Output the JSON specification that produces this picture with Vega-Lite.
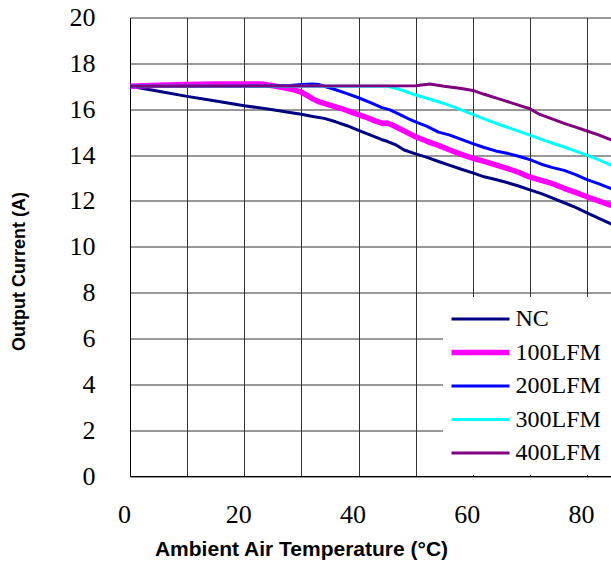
{
  "$schema": "https://vega.github.io/schema/vega-lite/v6.json",
  "width": 481,
  "height": 458.5,
  "autosize": {"type": "none"},
  "padding": {"left": 130, "top": 17.5, "right": 0, "bottom": 85},
  "background": "white",
  "config": {"view": {"stroke": null}},
  "data": {"values": [
    {"series": "NC", "temp": 0, "current": 17.0},
    {"series": "NC", "temp": 5, "current": 16.78},
    {"series": "NC", "temp": 10, "current": 16.56},
    {"series": "NC", "temp": 15, "current": 16.36},
    {"series": "NC", "temp": 20, "current": 16.15},
    {"series": "NC", "temp": 25, "current": 15.98},
    {"series": "NC", "temp": 28, "current": 15.86},
    {"series": "NC", "temp": 30, "current": 15.78},
    {"series": "NC", "temp": 32, "current": 15.68},
    {"series": "NC", "temp": 34, "current": 15.6},
    {"series": "NC", "temp": 36, "current": 15.45},
    {"series": "NC", "temp": 38, "current": 15.28},
    {"series": "NC", "temp": 40, "current": 15.08},
    {"series": "NC", "temp": 42, "current": 14.88},
    {"series": "NC", "temp": 44, "current": 14.68},
    {"series": "NC", "temp": 45, "current": 14.6},
    {"series": "NC", "temp": 46.5, "current": 14.45},
    {"series": "NC", "temp": 48, "current": 14.22},
    {"series": "NC", "temp": 50, "current": 14.05},
    {"series": "NC", "temp": 52, "current": 13.9},
    {"series": "NC", "temp": 54, "current": 13.72},
    {"series": "NC", "temp": 56, "current": 13.55},
    {"series": "NC", "temp": 58, "current": 13.38},
    {"series": "NC", "temp": 60, "current": 13.22},
    {"series": "NC", "temp": 62, "current": 13.05},
    {"series": "NC", "temp": 64, "current": 12.93},
    {"series": "NC", "temp": 66, "current": 12.8},
    {"series": "NC", "temp": 68, "current": 12.65},
    {"series": "NC", "temp": 70, "current": 12.48},
    {"series": "NC", "temp": 72, "current": 12.32},
    {"series": "NC", "temp": 74, "current": 12.12},
    {"series": "NC", "temp": 76, "current": 11.92},
    {"series": "NC", "temp": 78, "current": 11.72},
    {"series": "NC", "temp": 80, "current": 11.48},
    {"series": "NC", "temp": 82, "current": 11.25},
    {"series": "NC", "temp": 84, "current": 11.02},
    {"series": "NC", "temp": 85, "current": 10.92},

    {"series": "100LFM", "temp": 0, "current": 17.0},
    {"series": "100LFM", "temp": 5, "current": 17.05},
    {"series": "100LFM", "temp": 10, "current": 17.08},
    {"series": "100LFM", "temp": 15, "current": 17.1},
    {"series": "100LFM", "temp": 20, "current": 17.1},
    {"series": "100LFM", "temp": 23, "current": 17.1},
    {"series": "100LFM", "temp": 25, "current": 17.02},
    {"series": "100LFM", "temp": 27, "current": 16.93},
    {"series": "100LFM", "temp": 29, "current": 16.82},
    {"series": "100LFM", "temp": 30, "current": 16.74},
    {"series": "100LFM", "temp": 31, "current": 16.6},
    {"series": "100LFM", "temp": 32, "current": 16.45},
    {"series": "100LFM", "temp": 33, "current": 16.33},
    {"series": "100LFM", "temp": 35, "current": 16.18},
    {"series": "100LFM", "temp": 37, "current": 16.03},
    {"series": "100LFM", "temp": 39, "current": 15.85},
    {"series": "100LFM", "temp": 41, "current": 15.68},
    {"series": "100LFM", "temp": 43, "current": 15.48},
    {"series": "100LFM", "temp": 44.3, "current": 15.38},
    {"series": "100LFM", "temp": 45, "current": 15.4},
    {"series": "100LFM", "temp": 46, "current": 15.3},
    {"series": "100LFM", "temp": 48, "current": 15.05},
    {"series": "100LFM", "temp": 50, "current": 14.8},
    {"series": "100LFM", "temp": 52, "current": 14.6},
    {"series": "100LFM", "temp": 54, "current": 14.42},
    {"series": "100LFM", "temp": 56, "current": 14.22},
    {"series": "100LFM", "temp": 58, "current": 14.03},
    {"series": "100LFM", "temp": 60, "current": 13.86},
    {"series": "100LFM", "temp": 62, "current": 13.72},
    {"series": "100LFM", "temp": 64, "current": 13.57},
    {"series": "100LFM", "temp": 66, "current": 13.42},
    {"series": "100LFM", "temp": 68, "current": 13.25},
    {"series": "100LFM", "temp": 69.8, "current": 13.06},
    {"series": "100LFM", "temp": 72, "current": 12.9},
    {"series": "100LFM", "temp": 74, "current": 12.75},
    {"series": "100LFM", "temp": 76, "current": 12.55},
    {"series": "100LFM", "temp": 78, "current": 12.37},
    {"series": "100LFM", "temp": 80, "current": 12.18},
    {"series": "100LFM", "temp": 82, "current": 12.0},
    {"series": "100LFM", "temp": 84, "current": 11.83},
    {"series": "100LFM", "temp": 85, "current": 11.75},

    {"series": "200LFM", "temp": 0, "current": 17.0},
    {"series": "200LFM", "temp": 10, "current": 17.0},
    {"series": "200LFM", "temp": 20, "current": 17.0},
    {"series": "200LFM", "temp": 28, "current": 17.03},
    {"series": "200LFM", "temp": 30, "current": 17.08},
    {"series": "200LFM", "temp": 32, "current": 17.1},
    {"series": "200LFM", "temp": 33, "current": 17.08},
    {"series": "200LFM", "temp": 34, "current": 17.0},
    {"series": "200LFM", "temp": 36, "current": 16.85},
    {"series": "200LFM", "temp": 38, "current": 16.68},
    {"series": "200LFM", "temp": 40, "current": 16.5},
    {"series": "200LFM", "temp": 42, "current": 16.3},
    {"series": "200LFM", "temp": 44, "current": 16.08},
    {"series": "200LFM", "temp": 45.5, "current": 15.97},
    {"series": "200LFM", "temp": 47, "current": 15.8},
    {"series": "200LFM", "temp": 49, "current": 15.55},
    {"series": "200LFM", "temp": 50, "current": 15.45},
    {"series": "200LFM", "temp": 52, "current": 15.25},
    {"series": "200LFM", "temp": 54, "current": 15.0},
    {"series": "200LFM", "temp": 56, "current": 14.87},
    {"series": "200LFM", "temp": 58, "current": 14.68},
    {"series": "200LFM", "temp": 60, "current": 14.5},
    {"series": "200LFM", "temp": 62, "current": 14.33},
    {"series": "200LFM", "temp": 64, "current": 14.18},
    {"series": "200LFM", "temp": 66, "current": 14.08},
    {"series": "200LFM", "temp": 68, "current": 13.95},
    {"series": "200LFM", "temp": 70, "current": 13.8},
    {"series": "200LFM", "temp": 72, "current": 13.6},
    {"series": "200LFM", "temp": 74, "current": 13.45},
    {"series": "200LFM", "temp": 76, "current": 13.33},
    {"series": "200LFM", "temp": 78, "current": 13.15},
    {"series": "200LFM", "temp": 80, "current": 12.93},
    {"series": "200LFM", "temp": 82, "current": 12.75},
    {"series": "200LFM", "temp": 84, "current": 12.56},
    {"series": "200LFM", "temp": 85, "current": 12.45},

    {"series": "300LFM", "temp": 0, "current": 17.0},
    {"series": "300LFM", "temp": 45, "current": 17.0},
    {"series": "300LFM", "temp": 47, "current": 16.88},
    {"series": "300LFM", "temp": 50, "current": 16.62},
    {"series": "300LFM", "temp": 52, "current": 16.48},
    {"series": "300LFM", "temp": 55, "current": 16.25},
    {"series": "300LFM", "temp": 58, "current": 15.97},
    {"series": "300LFM", "temp": 60, "current": 15.77},
    {"series": "300LFM", "temp": 62, "current": 15.58},
    {"series": "300LFM", "temp": 65, "current": 15.3},
    {"series": "300LFM", "temp": 67, "current": 15.13},
    {"series": "300LFM", "temp": 70, "current": 14.87},
    {"series": "300LFM", "temp": 73, "current": 14.6},
    {"series": "300LFM", "temp": 76, "current": 14.35},
    {"series": "300LFM", "temp": 78, "current": 14.17},
    {"series": "300LFM", "temp": 80, "current": 14.0},
    {"series": "300LFM", "temp": 82, "current": 13.8},
    {"series": "300LFM", "temp": 84, "current": 13.58},
    {"series": "300LFM", "temp": 85, "current": 13.48},

    {"series": "400LFM", "temp": 0, "current": 17.0},
    {"series": "400LFM", "temp": 50, "current": 17.02},
    {"series": "400LFM", "temp": 52.5, "current": 17.1},
    {"series": "400LFM", "temp": 55, "current": 17.0},
    {"series": "400LFM", "temp": 58, "current": 16.9},
    {"series": "400LFM", "temp": 60, "current": 16.82},
    {"series": "400LFM", "temp": 62, "current": 16.65},
    {"series": "400LFM", "temp": 65, "current": 16.42},
    {"series": "400LFM", "temp": 68, "current": 16.18},
    {"series": "400LFM", "temp": 70, "current": 16.02},
    {"series": "400LFM", "temp": 71.5, "current": 15.8},
    {"series": "400LFM", "temp": 74, "current": 15.57},
    {"series": "400LFM", "temp": 76, "current": 15.38},
    {"series": "400LFM", "temp": 78, "current": 15.22},
    {"series": "400LFM", "temp": 80, "current": 15.05},
    {"series": "400LFM", "temp": 82, "current": 14.88},
    {"series": "400LFM", "temp": 84, "current": 14.68},
    {"series": "400LFM", "temp": 85, "current": 14.58}
  ]},
  "mark": {"type": "line", "clip": true, "strokeJoin": "round"},
  "encoding": {
    "x": {
      "field": "temp", "type": "quantitative",
      "scale": {"domain": [0, 84.2], "nice": false},
      "axis": {
        "values": [0, 10, 20, 30, 40, 50, 60, 70, 80],
        "labelExpr": "datum.value % 20 == 0 ? datum.label : ''",
        "title": "Ambient Air Temperature (°C)",
        "grid": true, "gridColor": "#333", "gridOpacity": 1, "gridWidth": 1,
        "ticks": false,
        "domainColor": "#000", "domainWidth": 1,
        "labelFont": "Liberation Serif", "labelFontSize": 26, "labelColor": "#000",
        "labelPadding": 25, "labelOffset": -6, "labelFlush": false, "labelOverlap": false,
        "titleFont": "Liberation Sans", "titleFontSize": 21, "titleFontWeight": "bold", "titleColor": "#000",
        "titleX": 171, "titleY": 79, "titleBaseline": "alphabetic", "titleAlign": "center", "titleAnchor": null
      }
    },
    "y": {
      "field": "current", "type": "quantitative",
      "scale": {"domain": [0, 20], "nice": false},
      "axis": {
        "values": [0, 2, 4, 6, 8, 10, 12, 14, 16, 18, 20],
        "title": "Output Current (A)",
        "grid": true, "gridColor": "#333", "gridOpacity": 1, "gridWidth": 1,
        "ticks": false,
        "domainColor": "#000", "domainWidth": 1,
        "labelFont": "Liberation Serif", "labelFontSize": 26, "labelColor": "#000",
        "labelPadding": 35, "labelFlush": false, "labelOverlap": false,
        "titleFont": "Liberation Sans", "titleFontSize": 18, "titleFontWeight": "bold", "titleColor": "#000",
        "titleAngle": -90, "titleX": -111, "titleY": 253.5, "titleBaseline": "middle", "titleAlign": "center", "titleAnchor": null
      }
    },
    "color": {
      "field": "series", "type": "nominal",
      "scale": {"domain": ["NC", "100LFM", "200LFM", "300LFM", "400LFM"], "range": ["#000080", "#ff00ff", "#0000ff", "#00ffff", "#800080"]},
      "legend": {
        "title": null, "orient": "none", "legendX": 313, "legendY": 279.5,
        "fillColor": "#ffffff", "padding": 10, "rowPadding": 9.5,
        "symbolType": "M-3.625,0H3.625", "symbolSize": 256, "symbolOffset": 15.5,
        "labelOffset": 23, "labelFont": "Liberation Serif", "labelFontSize": 24, "labelColor": "#000"
      }
    },
    "strokeWidth": {
      "field": "series", "type": "nominal",
      "scale": {"type": "ordinal", "domain": ["NC", "100LFM", "200LFM", "300LFM", "400LFM"], "range": [3, 5.5, 3, 3, 3]},
      "legend": {
        "title": null, "orient": "none", "legendX": 313, "legendY": 279.5,
        "fillColor": "#ffffff", "padding": 10, "rowPadding": 9.5,
        "symbolType": "M-3.625,0H3.625", "symbolSize": 256, "symbolOffset": 15.5,
        "labelOffset": 23, "labelFont": "Liberation Serif", "labelFontSize": 24, "labelColor": "#000"
      }
    }
  }
}
